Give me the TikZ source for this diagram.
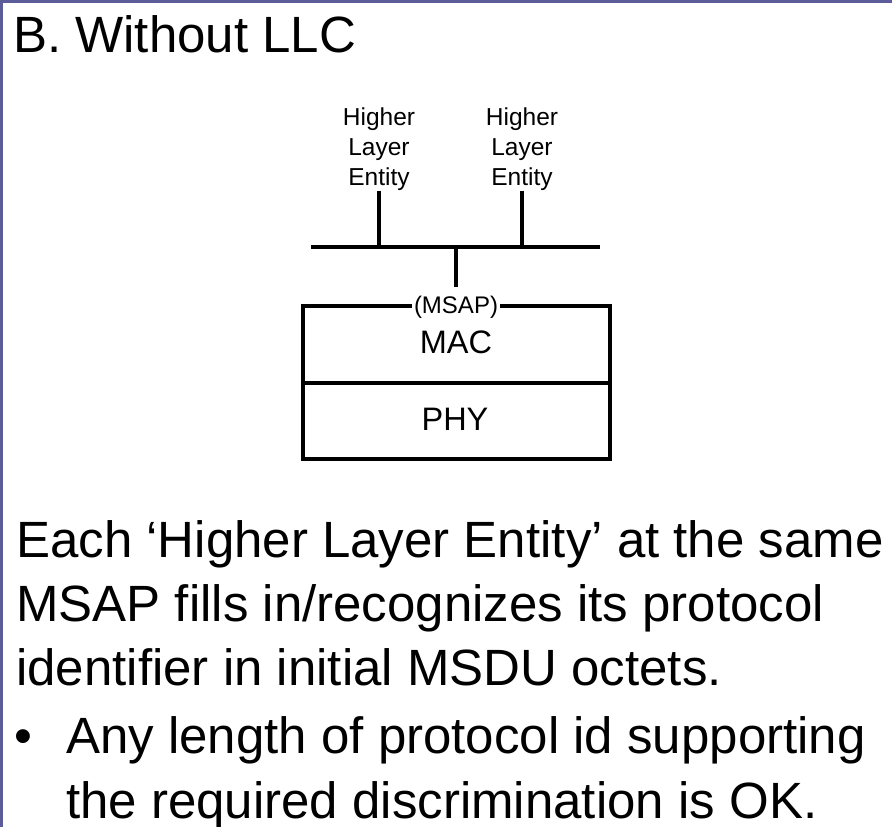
\documentclass[tikz,border=0pt]{standalone}
\usepackage{fontspec}
\setmainfont{Liberation Sans}
\definecolor{framecol}{HTML}{5C5C99}
\tikzset{
  hle/.style={font=\fontsize{24.5}{30}\selectfont, align=center, inner sep=0pt},
  layerbox/.style={draw, line width=3.2pt, minimum width=307pt, inner sep=0pt, outer sep=0pt},
  layertext/.style={font=\fontsize{32.5}{36}\selectfont, anchor=base, inner sep=0pt},
  saplabel/.style={fill=white, font=\fontsize{24}{28}\selectfont, anchor=base,
                   inner xsep=2pt, inner ysep=1pt},
  title/.style={font=\fontsize{51}{60}\selectfont, anchor=base west, inner sep=0pt},
  bodytext/.style={font=\fontsize{51}{64}\selectfont, anchor=base west, inner sep=0pt},
  wire/.style={line width=3.2pt}
}
\begin{document}
\begin{tikzpicture}[x=1pt, y=-1pt]
  \useasboundingbox (0,0) rectangle (892,827);
  \fill[white] (0,0) rectangle (892,827);

  % slide frame (top and left edges)
  \draw[framecol, line width=2.5pt] (1.25,827) -- (1.25,1.25) -- (892,1.25);

  % heading
  \node[title] (head) at (13,52) {B. Without LLC};

  % higher layer entities
  \node[hle, anchor=south] (hle1) at (379,190.5) {Higher\\Layer\\Entity};
  \node[hle, anchor=south] (hle2) at (522,190.5) {Higher\\Layer\\Entity};

  % bus and access point
  \coordinate (busL) at (311,247);
  \coordinate (busR) at (600,247);
  \coordinate (tap) at (456,247);
  \coordinate (sap) at (456,287);
  \draw[wire] (busL) -- (busR);
  \draw[wire] (hle1.south) -- (hle1.south |- busL);
  \draw[wire] (hle2.south) -- (hle2.south |- busL);
  \draw[wire] (tap) -- (sap);

  % MAC / PHY stack
  \node[layerbox, minimum height=77pt, anchor=north] (mac) at (456.5,306) {};
  \node[layerbox, minimum height=76pt, anchor=north] (phy) at (mac.south) {};
  \node[layertext] (mactext) at (456,353) {MAC};
  \node[layertext] (phytext) at (455,430) {PHY};
  \node[saplabel] (msap) at (456,313) {(MSAP)};

  % explanatory text
  \node[bodytext] (l1) at (16,557) {Each ‘Higher Layer Entity’ at the same};
  \node[bodytext] (l2) at (16,621) {MSAP fills in/recognizes its protocol};
  \node[bodytext] (l3) at (16,685) {identifier in initial MSDU octets.};
  \node[bodytext, anchor=base] (dot) at (23,753) {•};
  \node[bodytext] (b1) at (66,753) {Any length of protocol id supporting};
  \node[bodytext] (b2) at (66,818) {the required discrimination is OK.};
\end{tikzpicture}
\end{document}
